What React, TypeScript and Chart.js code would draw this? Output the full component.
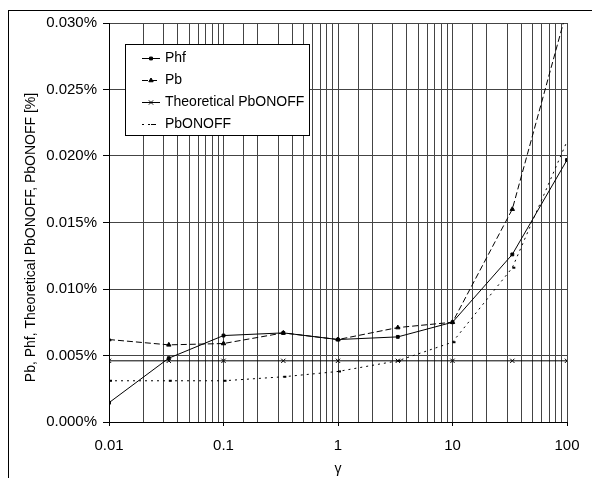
import React, { useEffect, useRef } from 'react';
import { Chart, registerables } from 'chart.js';
import { drawPoint } from 'chart.js/helpers';

Chart.register(...registerables);

// gamma (x) values
const gammaValues = [0.01, 0.0333, 0.1, 0.333, 1, 3.33, 10, 33.3, 100];
// series values in %
const phfValues = [0.00145, 0.0048, 0.0065, 0.0067, 0.0062, 0.0064, 0.0075, 0.0126, 0.0197];
const pbValues = [0.0062, 0.0058, 0.0059, 0.0067, 0.0062, 0.0071, 0.0075, 0.016, 0.031];
const theoreticalValues = [0.0046, 0.0046, 0.0046, 0.0046, 0.0046, 0.0046, 0.0046, 0.0046, 0.0046];
const pbOnOffValues = [0.0031, 0.0031, 0.0031, 0.0034, 0.0038, 0.0046, 0.006, 0.0116, 0.0211];

const seriesLabels = ['Phf', 'Pb', 'Theoretical PbONOFF', 'PbONOFF'];
const xTickLabels = ['0.01', '0.1', '1', '10', '100'];
const yAxisTitle = 'Pb, Phf, Theoretical PbONOFF, PbONOFF [%]';
const xAxisTitle = 'γ';

const FONT = 'Arial, "Liberation Sans", Helvetica, sans-serif';

const toPoints = (vals: number[]) => gammaValues.map((g, i) => ({ x: g, y: vals[i] }));

const isDecade = (v: number) => {
  const l = Math.log10(v);
  return Math.abs(l - Math.round(l)) < 1e-6;
};

const yTitlePlugin = {
  id: 'yTitle',
  afterDraw(chart: any) {
    const ctx = chart.ctx as CanvasRenderingContext2D;
    const area = chart.chartArea;
    ctx.save();
    ctx.translate(31, (area.top + area.bottom) / 2 + 15);
    ctx.rotate(-Math.PI / 2);
    ctx.font = `14px ${FONT}`;
    ctx.fillStyle = '#000';
    ctx.textAlign = 'center';
    ctx.textBaseline = 'middle';
    ctx.fillText(yAxisTitle, 0, 0);
    ctx.restore();
  },
};

const boxLegend = {
  id: 'boxLegend',
  afterDraw(chart: any) {
    const ctx = chart.ctx as CanvasRenderingContext2D;
    const x0 = 125.5, y0 = 44.5, w = 184, h = 91;
    ctx.save();
    ctx.fillStyle = '#ffffff';
    ctx.fillRect(x0, y0, w, h);
    ctx.strokeStyle = '#000';
    ctx.lineWidth = 1;
    ctx.strokeRect(x0, y0, w, h);
    chart.data.datasets.forEach((ds: any, i: number) => {
      const cy = Math.round(57.5 + i * 22.2) + 0.5;
      ctx.strokeStyle = '#000';
      ctx.fillStyle = '#000';
      ctx.lineWidth = 1;
      ctx.setLineDash(ds.borderDash || []);
      ctx.beginPath();
      ctx.moveTo(142, cy);
      ctx.lineTo(160, cy);
      ctx.stroke();
      ctx.setLineDash([]);
      drawPoint(ctx, { pointStyle: ds.pointStyle, radius: ds.pointRadius, rotation: 0, borderWidth: ds.pointBorderWidth ?? 1 } as any, 151, cy);
      ctx.font = `14px ${FONT}`;
      ctx.textBaseline = 'middle';
      ctx.textAlign = 'left';
      ctx.fillStyle = '#000';
      ctx.fillText(ds.label, 165, cy);
    });
    ctx.restore();
  },
};

export default function App() {
  const ref = useRef<HTMLCanvasElement | null>(null);

  useEffect(() => {
    document.body.style.margin = '0';
    const canvas = ref.current;
    if (!canvas) return;
    const gridColor = '#444';
    const chart = new Chart(canvas, {
      type: 'line',
      data: {
        datasets: [
          {
            label: seriesLabels[0],
            data: toPoints(phfValues),
            borderColor: '#000',
            backgroundColor: '#000',
            borderWidth: 1,
            pointStyle: 'rect',
            pointRadius: 2,
            pointBorderWidth: 1,
            tension: 0,
          },
          {
            label: seriesLabels[1],
            data: toPoints(pbValues),
            borderColor: '#000',
            backgroundColor: '#000',
            borderWidth: 1,
            borderDash: [6, 3],
            pointStyle: 'triangle',
            pointRadius: 2.5,
            pointBorderWidth: 1,
            tension: 0,
          },
          {
            label: seriesLabels[2],
            data: toPoints(theoreticalValues),
            borderColor: '#000',
            backgroundColor: '#000',
            borderWidth: 1,
            pointStyle: 'crossRot',
            pointRadius: 3,
            pointBorderWidth: 1,
            tension: 0,
          },
          {
            label: seriesLabels[3],
            data: toPoints(pbOnOffValues),
            borderColor: '#000',
            backgroundColor: '#000',
            borderWidth: 1,
            borderDash: [2, 4],
            pointStyle: 'dash',
            pointRadius: 3,
            pointBorderWidth: 2,
            tension: 0,
          },
        ],
      },
      options: {
        responsive: false,
        animation: false,
        devicePixelRatio: 1,
        layout: { padding: { left: 0, top: 23, right: 25, bottom: 0 } },
        plugins: {
          legend: { display: false },
          tooltip: { enabled: false },
        },
        scales: {
          x: {
            type: 'logarithmic',
            min: 0.01,
            max: 100,
            border: { display: true, color: '#000', width: 1 },
            grid: {
              color: gridColor,
              lineWidth: 1,
              tickLength: 4,
              tickColor: (c: any) => (c.tick && isDecade(c.tick.value) ? '#000' : 'rgba(0,0,0,0)'),
            },
            ticks: {
              autoSkip: false,
              maxRotation: 0,
              minRotation: 0,
              padding: 11,
              color: '#000',
              font: { family: FONT, size: 15 },
              callback: (value: any) => {
                const v = Number(value);
                const lbl = xTickLabels.find((t) => Math.abs(Number(t) - v) / v < 1e-6);
                return lbl ?? '';
              },
            },
            title: {
              display: true,
              text: xAxisTitle,
              color: '#000',
              font: { family: FONT, size: 14 },
              padding: { top: 0, bottom: 0 },
            },
            afterFit: (scale: any) => {
              scale.height = 56;
            },
          },
          y: {
            type: 'linear',
            min: 0,
            max: 0.03,
            border: { display: true, color: '#000', width: 1 },
            grid: {
              color: gridColor,
              lineWidth: 1,
              tickLength: 6,
              tickColor: '#000',
            },
            ticks: {
              stepSize: 0.005,
              padding: 6,
              color: '#000',
              font: { family: FONT, size: 15 },
              callback: (value: any) => Number(value).toFixed(3) + '%',
            },
            title: { display: false },
            afterFit: (scale: any) => {
              scale.width = 109;
            },
          },
        },
      },
      plugins: [boxLegend, yTitlePlugin],
    } as any);
    return () => chart.destroy();
  }, []);

  return (
    <div style={{ position: 'fixed', left: 0, top: 0, width: 592, height: 478, background: '#fff', overflow: 'hidden' }}>
      <div
        style={{
          position: 'absolute',
          left: 8,
          top: 10,
          width: 640,
          height: 520,
          border: '1px solid #000',
          boxSizing: 'border-box',
        }}
      />
      <canvas ref={ref} width={592} height={478} style={{ position: 'absolute', left: 0, top: 0, width: 592, height: 478 }} />
    </div>
  );
}
